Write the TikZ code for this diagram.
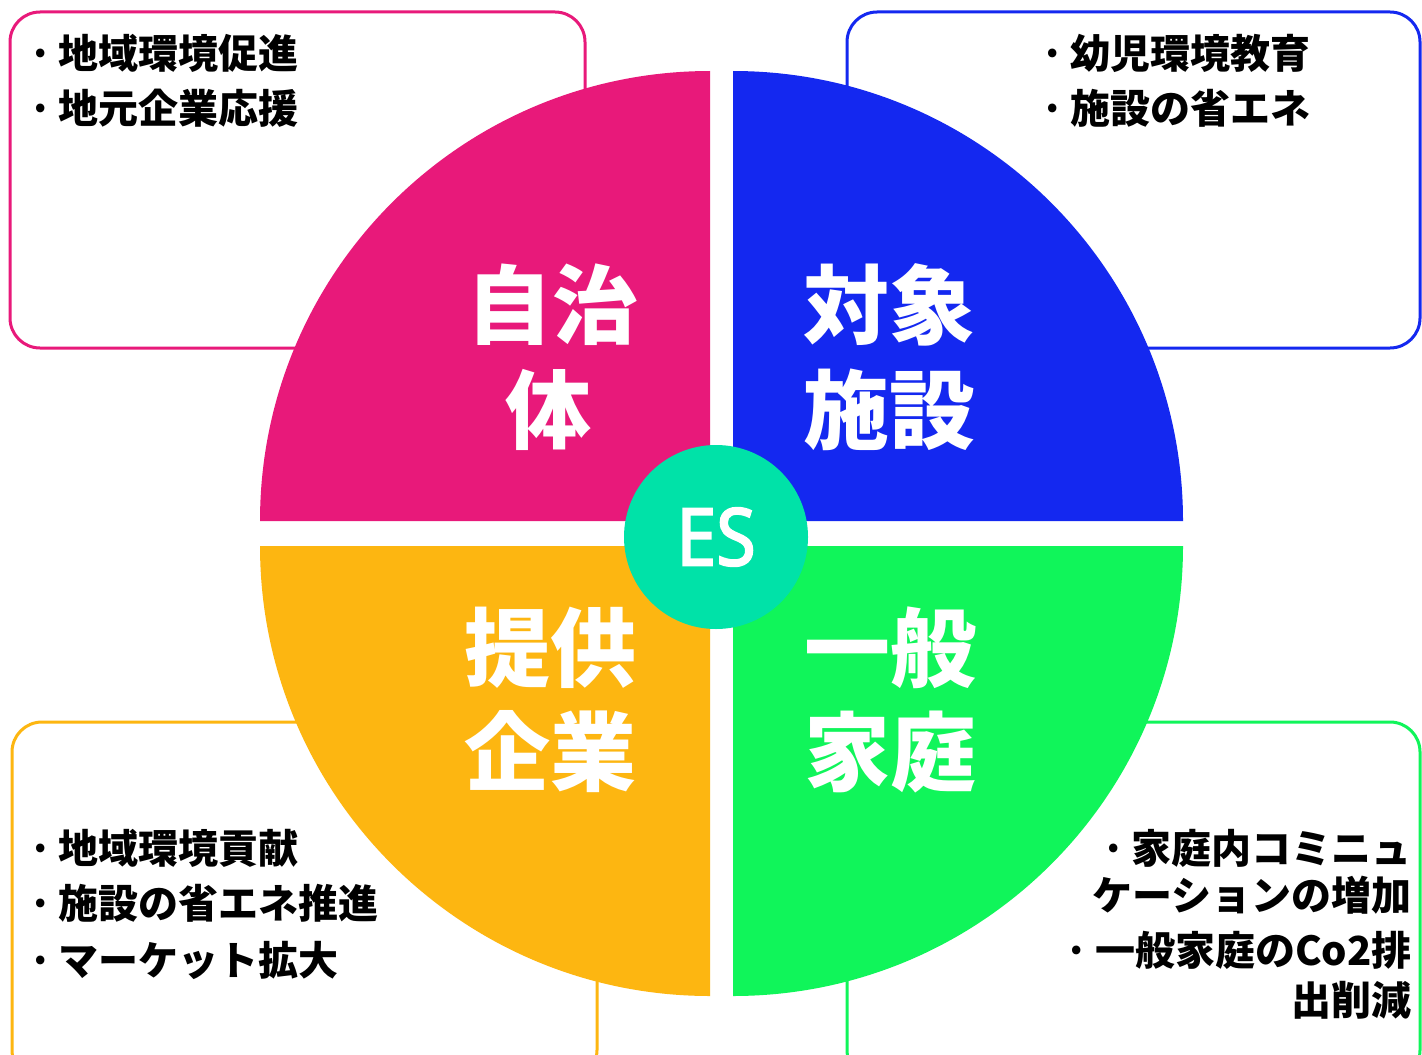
\documentclass[tikz,border=0pt]{standalone}
\usepackage{fontspec}
\newfontfamily\jp{Noto Sans CJK JP}
\newfontfamily\esfont[FakeStretch=0.9,FakeBold=2.2]{Noto Sans}
\newcommand\bul{\makebox[0.9em][c]{·}}
\definecolor{pinkc}{HTML}{E8197A}
\definecolor{bluec}{HTML}{1428F0}
\definecolor{yellowc}{HTML}{FDB611}
\definecolor{greenc}{HTML}{10F55A}
\definecolor{tealc}{HTML}{00E2A8}
\tikzset{
  infobox/.style={line width=1.5pt, rounded corners=15pt, fill=white},
  small/.style={font=\jp\bfseries\fontsize{20}{24}\selectfont, inner sep=0pt, text=black},
  big/.style={font=\jp\bfseries\fontsize{43}{48}\selectfont, inner sep=0pt, text=white},
}
\begin{document}
\begin{tikzpicture}[x=0.5pt,y=-0.5pt]
\useasboundingbox (0,0) rectangle (1422,1054);
\fill[white] (0,0) rectangle (1422,1054);
% boxes
\draw[infobox, draw=pinkc] (10,12) rectangle (585,348);
\draw[infobox, draw=bluec] (847,12) rectangle (1420,348);
\draw[infobox, draw=yellowc] (12,722) rectangle (597,1080);
\draw[infobox, draw=greenc] (847,722) rectangle (1420,1080);
% quadrants
\fill[pinkc] (710,521) -- ++(180:450) arc[start angle=180, end angle=270, radius=450] -- cycle;
\fill[bluec] (733,521) -- ++(270:450) arc[start angle=270, end angle=360, radius=450] -- cycle;
\fill[yellowc] (710,546) -- ++(90:450) arc[start angle=90, end angle=180, radius=450] -- cycle;
\fill[greenc] (733,546) -- ++(0:450) arc[start angle=0, end angle=90, radius=450] -- cycle;
% centre
\node[circle, fill=tealc, minimum size=92pt, inner sep=0pt, text=white,
      font=\esfont\fontsize{40}{40}\selectfont] (es) at (716,537) {ES};
% big labels
\node[big] (q1a) at (552,305) {自治};
\node[big] (q1b) at (548,410) {体};
\node[big] (q2a) at (889,305) {対象};
\node[big] (q2b) at (889,410) {施設};
\node[big] (q3a) at (550,648) {提供};
\node[big] (q3b) at (550,752) {企業};
\node[big] (q4a) at (890,648) {一般};
\node[big] (q4b) at (890,752) {家庭};
% top-left
\node[small, anchor=west] (tl1) at (22,53) {\bul 地域環境促進};
\node[small, anchor=west] (tl2) at (22,108) {\bul 地元企業応援};
% top-right
\node[small, anchor=west] (tr1) at (1034,53) {\bul 幼児環境教育};
\node[small, anchor=west] (tr2) at (1034,108) {\bul 施設の省エネ};
% bottom-left
\node[small, anchor=west] (bl1) at (22,848) {\bul 地域環境貢献};
\node[small, anchor=west] (bl2) at (22,903) {\bul 施設の省エネ推進};
\node[small, anchor=west] (bl3) at (22,960) {\bul マーケット拡大};
% bottom-right
\node[small, anchor=east] (br1) at (1412,848) {\bul 家庭内コミニュ};
\node[small, anchor=east] (br2) at (1412,895) {ケーションの増加};
\node[small, anchor=east] (br3) at (1412,950) {\bul 一般家庭のCo2排};
\node[small, anchor=east] (br4) at (1412,1000) {出削減};
\end{tikzpicture}
\end{document}
